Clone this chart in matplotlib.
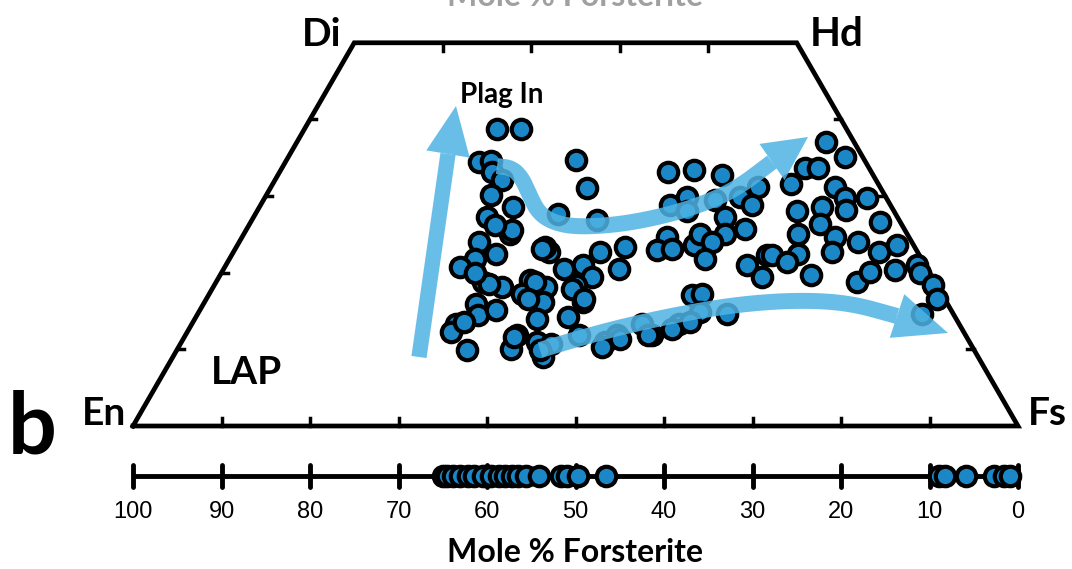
"""
Pyroxene quadrilateral (En-Di-Hd-Fs) with olivine Fo scale underneath.
"""

import numpy as np
import matplotlib
matplotlib.use('Agg')
import matplotlib.pyplot as plt
from matplotlib.patches import Polygon

# pyroxene analyses, mol % Wo and Fs
WO = [38.7, 38.8, 34.5, 34.6, 33.2, 32.1, 34.7, 31.0, 30.2, 28.6, 27.6, 27.3, 26.9,
      24.0, 25.0, 22.5, 21.8, 20.8, 22.7, 23.4, 20.5, 21.0, 22.7, 19.5, 18.8, 18.2,
      19.1, 18.2, 17.2, 16.2, 18.4, 16.2, 15.9, 14.5, 13.3, 12.3, 13.6, 14.0, 14.2,
      11.9, 10.1, 11.0, 10.7, 9.0, 9.9, 11.9, 11.0,
      33.2, 33.4, 32.8, 28.9, 29.9, 28.0, 29.5, 29.9, 31.2, 28.9, 27.3, 25.7, 25.0,
      24.7, 23.0, 23.1, 23.6, 25.0, 24.0, 21.8, 23.4, 20.5, 21.0, 22.3, 19.5, 17.1,
      17.2, 14.9, 14.6, 13.3, 13.3, 11.9, 11.9,
      37.1, 35.1, 33.6, 33.6, 31.6, 31.2, 29.7, 29.7, 28.2, 28.6, 28.0, 26.6, 26.3,
      25.1, 24.7, 24.0, 22.3, 22.5, 22.7, 22.7, 23.6, 21.0, 19.7, 18.8, 20.1, 20.4,
      19.9, 18.4, 16.6, 14.6, 21.4,
      11.6, 9.9, 10.3, 11.4, 11.9, 12.7, 13.6, 18.8, 17.9, 16.6, 16.6, 23.1, 25.6, 18.5,
      26.2, 20.0, 15.2]
FS = [21.8, 24.4, 21.9, 23.2, 24.0, 25.7, 32.7, 35.8, 25.4, 28.6, 34.2, 26.4, 39.0,
      27.1, 30.1, 29.8, 27.7, 26.5, 35.7, 34.8, 38.5, 40.3, 41.4, 42.1, 30.1, 32.6,
      35.3, 37.6, 35.4, 38.2, 40.9, 42.7, 30.8, 31.7, 29.9, 29.8, 30.6, 38.7, 42.0,
      37.4, 37.7, 40.1, 41.9, 41.8, 32.8, 44.5, 47.8,
      43.8, 46.7, 50.2, 46.2, 47.7, 48.6, 51.0, 53.6, 55.0, 55.5, 53.2, 56.3, 54.4,
      48.0, 47.7, 49.3, 51.6, 51.6, 53.4, 53.7, 43.9, 44.7, 58.9, 60.5, 61.3, 54.6,
      55.7, 56.6, 59.8, 55.1, 50.9, 52.7, 48.7,
      59.8, 62.9, 59.1, 60.6, 58.6, 63.7, 65.6, 68.1, 66.5, 63.5, 61.0, 71.1, 64.5,
      62.6, 67.0, 69.9, 61.1, 63.9, 67.6, 73.0, 74.5, 78.1, 66.8, 72.4, 73.2, 75.9,
      79.0, 81.2, 82.5, 81.9, 63.2,
      37.3, 41.0, 47.9, 49.3, 52.2, 54.6, 56.1, 36.0, 40.7, 42.7, 36.3, 34.7, 30.0, 31.0,
      27.8, 28.6, 33.4]

# olivine analyses, mol % Fo
FO = [65.0, 64.5, 63.8, 63.0, 62.2, 61.5, 60.4, 59.6, 58.7, 58.0, 57.2, 56.5, 55.6,
      54.1, 51.6, 51.0, 49.7, 46.6, 8.9, 8.2, 5.9, 2.7, 1.6, 0.9]
FO_TICKS = [100, 90, 80, 70, 60, 50, 40, 30, 20, 10, 0]
QUAD_WO_TICKS = [10, 20, 30, 40]
QUAD_X_TICKS = [10, 20, 30, 40, 50, 60, 70, 80, 90]
TOP_X_TICKS = [35, 45, 55, 65]

S = 8.85            # pixels per composition unit
X0, Y0 = 133, 426   # En corner in pixels
H = np.sqrt(3) / 2

BOLD = ['Lato', 'DejaVu Sans']
ARIAL = ['Liberation Sans', 'DejaVu Sans']
PT_BLUE = '#1b87c6'
ARROW = '#4fb3e3'


def px(x, y):
    """pixel position -> plot units"""
    return (x - X0) / S, (Y0 - y) / S


def chaikin(pts, n=4):
    pts = np.asarray(pts, float)
    for _ in range(n):
        q = 0.75 * pts[:-1] + 0.25 * pts[1:]
        r = 0.25 * pts[:-1] + 0.75 * pts[1:]
        new = np.empty((2 * len(q), 2))
        new[0::2] = q
        new[1::2] = r
        pts = np.vstack([pts[0], new, pts[-1]])
    return pts


def trend_arrow(ax, shaft_px, tip_px, width=11, head_w=44, smooth=True):
    shaft = np.array([px(*p) for p in shaft_px])
    if smooth and len(shaft) > 2:
        shaft = chaikin(shaft)
    tip = np.array(px(*tip_px))
    base = shaft[-1]
    d = tip - base
    d = d / np.hypot(*d)
    n = np.array([-d[1], d[0]])
    hw = head_w / S / 2
    ax.plot(shaft[:, 0], shaft[:, 1], color=ARROW, lw=width, alpha=0.85,
            solid_capstyle='butt', solid_joinstyle='round', zorder=4)
    head = Polygon([base + n * hw, tip, base - n * hw], closed=True,
                   facecolor=ARROW, edgecolor='none', alpha=0.85, zorder=4)
    ax.add_patch(head)


fig = plt.figure(figsize=(10.72, 5.69), dpi=100)
ax = fig.add_axes([0, 0, 1, 1])
ax.set_xlim(px(0, 0)[0], px(1072, 0)[0])
ax.set_ylim(px(0, 569)[1], px(0, 0)[1])
ax.axis('off')

# quadrilateral outline
top = 50 * H
quad_x = [0, 100, 75, 25, 0]
quad_y = [0, 0, top, top, 0]
ax.plot(quad_x, quad_y, color='black', lw=3.4, solid_joinstyle='miter', zorder=2)

tl = 8 / S
for t in QUAD_X_TICKS:
    ax.plot([t, t], [0, tl], color='black', lw=2.5, zorder=2)
for t in TOP_X_TICKS:
    ax.plot([t, t], [top, top - tl], color='black', lw=2.5, zorder=2)
for w in QUAD_WO_TICKS:
    ax.plot([w / 2, w / 2 + tl * 0.8], [w * H, w * H], color='black', lw=2.5, zorder=2)
    ax.plot([100 - w / 2, 100 - w / 2 - tl * 0.8], [w * H, w * H], color='black', lw=2.5, zorder=2)

# pyroxene points
wo = np.array(WO)
fs = np.array(FS)
ax.plot(fs + wo / 2, wo * H, 'o', ms=14, mfc=PT_BLUE, mec='black', mew=3,
        ls='none', zorder=3)

# trend arrows
trend_arrow(ax, [(419, 357), (448, 154)], (456, 106), width=11, head_w=44, smooth=False)
trend_arrow(ax, [(497, 166), (512, 168), (522, 178), (530, 196), (538, 212), (552, 222),
                 (575, 227), (615, 225), (655, 218), (695, 207), (735, 190), (772, 162)],
            (808, 137), width=11.5, head_w=44)
trend_arrow(ax, [(540, 350), (580, 338), (625, 326), (680, 314), (740, 304), (800, 300),
                 (850, 303), (897, 316)],
            (948, 333), width=11.5, head_w=46)

# olivine scale
yf = px(0, 476)[1]
ax.plot([0, 100], [yf, yf], color='black', lw=3.5, solid_capstyle='butt', zorder=2)
for t in FO_TICKS:
    ax.plot([100 - t, 100 - t], [yf - 1.2, yf + 1.2], color='black', lw=3.5,
            solid_capstyle='round', zorder=2)
    ax.text(100 - t, px(0, 512)[1], str(t), ha='center', va='center',
            fontsize=17, family=ARIAL)
ax.plot(100 - np.array(FO), np.full(len(FO), yf), 'o', ms=14, mfc=PT_BLUE,
        mec='black', mew=3, ls='none', zorder=3)

# labels
ax.text(*px(575, 552), 'Mole % Forsterite', ha='center', va='center',
        fontsize=23, weight='bold', family=BOLD)
ax.text(*px(575, 6), 'Mole % Forsterite', ha='center', va='baseline',
        fontsize=23, weight='bold', family=BOLD, color='#a0a0a0')
ax.text(*px(126, 425), 'En', ha='right', va='baseline', fontsize=28, weight='bold', family=BOLD)
ax.text(*px(1028, 425), 'Fs', ha='left', va='baseline', fontsize=28, weight='bold', family=BOLD)
ax.text(*px(341, 46), 'Di', ha='right', va='baseline', fontsize=28, weight='bold', family=BOLD)
ax.text(*px(810, 46), 'Hd', ha='left', va='baseline', fontsize=29, weight='bold', family=BOLD)
ax.text(*px(211, 384), 'LAP', ha='left', va='baseline', fontsize=28, weight='bold', family=BOLD)
ax.text(*px(460, 103), 'Plag In', ha='left', va='baseline', fontsize=20, weight='bold', family=BOLD)
ax.text(*px(8, 453), 'b', ha='left', va='baseline', fontsize=62, weight='bold', family=BOLD)

fig.savefig('out.png', dpi=100, facecolor='white')
plt.close(fig)
